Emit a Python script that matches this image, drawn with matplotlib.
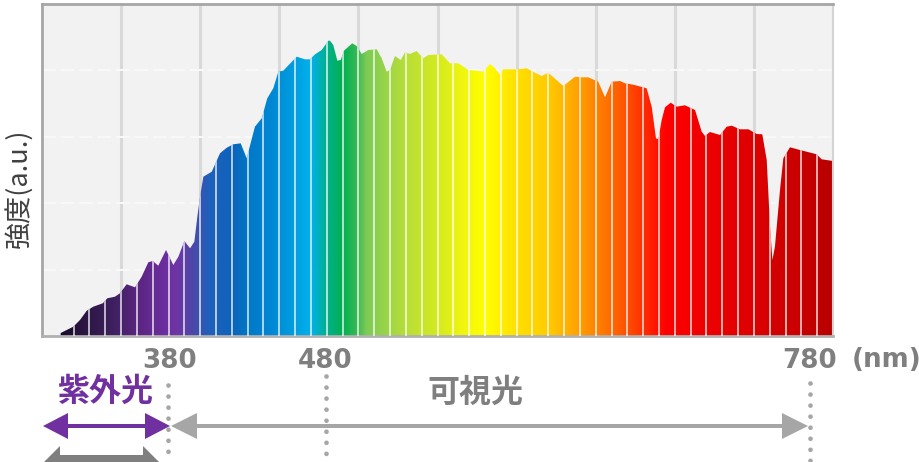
import numpy as np
import matplotlib
matplotlib.use("Agg")
import matplotlib.pyplot as plt
from matplotlib.colors import LinearSegmentedColormap
from matplotlib.patches import FancyArrow, Polygon

plt.rcParams['font.family'] = ['Noto Sans CJK JP', 'DejaVu Sans']

# spectrum
wavelength = [311.8, 319.8, 324.0, 328.3, 332.4, 338.4, 341.3, 346.1, 349.3, 353.5, 358.8, 363.0, 367.2, 370.0,
              373.5, 378.4, 383.0, 386.2, 390.0, 393.6, 396.3, 398.2, 399.9, 402.0, 407.3, 412.5, 416.8, 420.9,
              425.6, 429.4, 434.6, 438.9, 442.4, 446.2, 449.4, 452.5, 461.0, 466.2, 469.4, 472.6, 476.8, 481.0,
              482.0, 484.1, 486.7, 488.8, 490.9, 496.1, 498.9, 502.1, 506.3, 511.6, 514.7, 517.9, 520.0, 523.1,
              526.7, 529.5, 532.6, 536.8, 541.0, 544.2, 552.7, 557.9, 563.2, 569.5, 574.8, 579.0, 583.2, 586.4,
              589.5, 591.6, 601.1, 606.4, 611.6, 615.9, 620.0, 629.5, 636.9, 641.1, 645.3, 651.6, 655.9, 660.1,
              665.4, 668.5, 673.8, 682.2, 685.4, 688.1, 689.6, 691.7, 693.8, 697.4, 701.2, 706.4, 712.8, 717.0,
              719.1, 722.2, 728.6, 732.8, 736.0, 741.2, 746.5, 751.8, 755.3, 758.1, 760.2, 761.7, 763.3, 766.5,
              768.6, 772.8, 779.1, 789.7, 792.8, 800.0]
intensity = [3, 9.3, 16, 25.3, 29.3, 32.7, 37.7, 39.3, 42.7, 51.7, 48.7, 59.3, 73.7, 75,
             70.3, 86, 71, 79.3, 95, 87.7, 94.3, 119.3, 139.3, 159.3, 164.3, 182.7, 188.3, 191.7,
             192.7, 177.7, 209.3, 217.7, 237.7, 247.7, 264.3, 265.3, 279.3, 276.7, 276.7, 281.7, 286, 295.3,
             295.3, 291, 275.3, 276, 285.3, 292.7, 290, 282, 286, 286.7, 277.7, 264.3, 266, 280,
             276, 283.7, 282, 285, 277.7, 281, 281.7, 272.7, 272.7, 266, 265.3, 264.3, 272, 267.7,
             261, 266.7, 266.7, 267.7, 263.3, 260, 263.3, 250, 259.3, 258.7, 258.7, 254.3, 238.7, 254.3,
             255, 252.7, 251.3, 247.7, 229.3, 197.7, 196.7, 216, 228.7, 233.3, 229.3, 230.7, 226, 204.3,
             200, 204, 201, 209.3, 210.3, 206.7, 206.7, 202, 201.7, 176, 109.3, 76, 89.3, 146,
             177.7, 188.7, 186, 181.7, 176.7, 175]

# colour along the spectrum
color_nm = [300, 312, 325, 345, 360, 375, 385, 395, 405, 420, 430, 445, 460, 470, 478, 490, 500, 505, 520, 530,
            550, 565, 580, 600, 620, 640, 655, 670, 685, 695, 720, 750, 780, 800]
color_hex = ['#14091f', '#1a0f2a', '#2a1540', '#3f2060', '#5a2580', '#6a2d9c', '#6e35a5', '#4a48a8', '#2060bb',
             '#0d63bb', '#0078c8', '#0088d5', '#00a0e0', '#00b0ec', '#00b09a', '#00b050', '#40bb55', '#7ccb55',
             '#a0d645', '#b8de38', '#d4ea20', '#eef510', '#ffff00', '#ffe000', '#ffcc00', '#ff9f00', '#ff7700',
             '#ff5000', '#ff2000', '#ff0000', '#ee0000', '#dd0000', '#c80000', '#b80000']

grid_nm = [350, 400, 450, 500, 550, 600, 650, 700, 750]
grid_level = [66.4, 132.8, 199.2, 265.6]
stripe_nm = list(range(320, 800, 10))

range_labels = ['380', '480', '780']
uv_label = '紫外光'
visible_label = '可視光'
unit_label = '(nm)'
y_label = '強度(a.u.)'

GRAY = '#7f7f7f'
LIGHT = '#a6a6a6'
PURPLE = '#7030a0'

fig = plt.figure(figsize=(9.2, 4.62), dpi=100)
ax = fig.add_axes([42 / 920, 1 - 336 / 462, 791 / 920, 332 / 462], facecolor='#f2f2f2')
ax.set_xlim(300, 800)
ax.set_ylim(0, 332)
ax.set_xticks([])
ax.set_yticks([])

for x in grid_nm:
    ax.axvline(x, color='#d9d9d9', lw=2.2, zorder=1)
for y in grid_level:
    ax.axhline(y, color='#f9f9f9', lw=1.4, ls=(0, (7, 2.5)), zorder=1)

# gradient cut to the spectrum outline
nodes = (np.array(color_nm) - 300) / 500
cmap = LinearSegmentedColormap.from_list('spectrum', list(zip(nodes, color_hex)), N=512)
outline = Polygon(np.column_stack([[wavelength[0]] + wavelength + [800], [0] + intensity + [0]]),
                  closed=True, fc='none', ec='none', transform=ax.transData)
ax.add_patch(outline)
img = ax.imshow(np.linspace(0, 1, 1000)[None, :], cmap=cmap, aspect='auto', extent=(300, 800, 0, 332),
                interpolation='bilinear', zorder=2)
img.set_clip_path(outline)
stripes = ax.vlines(stripe_nm, 0, 332, color='white', alpha=0.8, lw=1.2, zorder=3)
stripes.set_clip_path(outline)

for side, c, w in [('top', LIGHT, 2), ('left', LIGHT, 2), ('bottom', '#b0b0b0', 2), ('right', '#d4d4d4', 1.5)]:
    ax.spines[side].set_color(c)
    ax.spines[side].set_linewidth(w)

# the part below the plot is laid out in picture pixels
over = fig.add_axes([0, 0, 1, 1], facecolor='none')
over.set_xlim(0, 920)
over.set_ylim(462, 0)
over.axis('off')


def double_arrow(x0, x1, y, width, head_w, head_l, color):
    # two halves that overlap in the middle, y on a whole pixel so no seam shows
    mid = (x0 + x1) / 2
    for start, end in [(mid - 2, x1), (mid + 2, x0)]:
        over.add_patch(FancyArrow(start, y, end - start, 0, width=width, head_width=head_w, head_length=head_l,
                                  length_includes_head=True, color=color, lw=0, clip_on=True))


for x, top in [(168, 385), (325.7, 376), (810, 383)]:
    over.plot([x, x], [top, 462], color=LIGHT, lw=3.4, ls=(0, (0.01, 2.33)), dash_capstyle='round', clip_on=True)

double_arrow(171, 808, 426, 4, 26, 26, LIGHT)
double_arrow(43, 170, 426, 4, 26, 25, PURPLE)
double_arrow(30, 173, 476, 42, 60, 30, GRAY)

for label, x in zip(range_labels, [170, 325, 810]):
    over.text(x, 361, label, color=GRAY, fontsize=18.8, fontweight='bold', family='DejaVu Sans',
              ha='center', va='center')
over.text(852, 360, unit_label, color=GRAY, fontsize=18.8, fontweight='bold', family='DejaVu Sans',
          ha='left', va='center')
over.text(105.5, 392, uv_label, color=PURPLE, fontsize=23, fontweight='bold', ha='center', va='center')
over.text(475, 393, visible_label, color=GRAY, fontsize=23, fontweight='bold', ha='center', va='center')
over.text(19, 188, y_label, color='#404040', fontsize=19.5, rotation=90, ha='center', va='center')

fig.savefig('out.png', dpi=100)
